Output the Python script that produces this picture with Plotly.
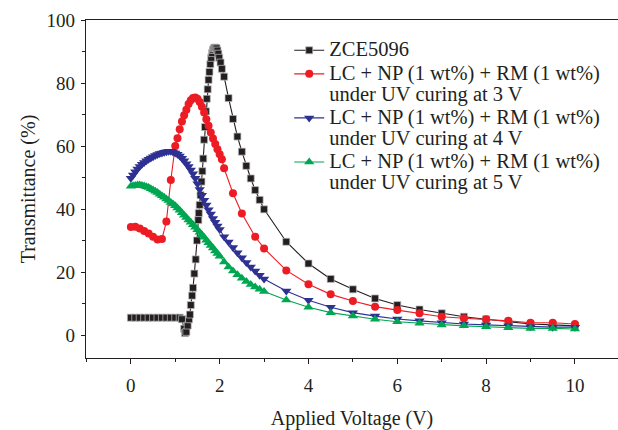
import plotly.graph_objects as go

# ---------------- data ----------------
v_black = [0, 0.1, 0.2, 0.3, 0.4, 0.5, 0.6, 0.7, 0.8, 0.9, 1.0, 1.1, 1.15,
           1.2, 1.22, 1.25, 1.28, 1.31, 1.33, 1.35, 1.38, 1.40, 1.43, 1.46, 1.49,
           1.52, 1.53, 1.55, 1.57, 1.59, 1.61, 1.63, 1.65, 1.67, 1.69, 1.71, 1.73,
           1.75, 1.77, 1.79, 1.81, 1.83, 1.85, 1.87, 1.89, 1.91, 1.93, 1.95, 1.97,
           1.99, 2.02, 2.05,
           2.1, 2.2, 2.3, 2.4, 2.5, 2.6, 2.7, 2.8, 2.9, 3.0,
           3.5, 4.0, 4.5, 5.0, 5.5, 6.0, 6.5, 7.0, 7.5, 8.0, 8.5, 9.0, 9.5, 10.0]
t_black = [5.5, 5.5, 5.5, 5.5, 5.5, 5.5, 5.5, 5.5, 5.5, 5.5, 5.5, 5.5, 5.0,
           2.0, 0.6, 1.0, 3.0, 5.0, 6.5, 9.5, 12.5, 15.0, 19.5, 24.0, 30.0,
           36.5, 38.7, 41.3, 44.4, 48.7, 52.0, 56.0, 62.0, 66.0, 71.0, 75.0, 78.0,
           81.0, 83.5, 86.0, 88.0, 89.5, 90.5, 91.0, 91.2, 91.2, 91.0, 90.3, 89.3,
           88.0, 86.5, 84.5,
           82.0, 75.2, 68.6, 63.0, 58.2, 53.7, 49.7, 46.0, 42.9, 39.9,
           29.6, 22.7, 17.8, 14.5, 11.6, 9.5, 8.1, 6.9, 5.8, 5.0, 4.2, 3.5, 3.2, 2.9]

v_red = [0, 0.1, 0.2, 0.3, 0.4, 0.5, 0.6, 0.7, 0.8, 0.9, 1.0, 1.05, 1.1, 1.15,
         1.2, 1.25, 1.3, 1.35, 1.4, 1.45, 1.5, 1.55, 1.6, 1.65, 1.7, 1.75, 1.8,
         1.85, 1.9, 1.95, 2.0, 2.05,
         2.1, 2.3, 2.5, 2.8, 3.0,
         3.5, 4.0, 4.5, 5.0, 5.5, 6.0, 6.5, 7.0, 7.5, 8.0, 8.5, 9.0, 9.5, 10.0]
t_red = [34.3, 34.4, 33.8, 33.0, 32.2, 31.2, 30.3, 30.5, 36.0, 49.2, 60.0, 62.5, 65.3, 67.8,
         69.8, 71.5, 73.3, 74.5, 75.2, 75.4, 75.0, 74.0, 72.5, 70.6, 68.5, 66.4, 64.3,
         62.4, 60.6, 59.0, 57.4, 55.8,
         52.9, 45.0, 38.6, 31.2, 27.5,
         20.5, 16.1, 12.9, 10.8, 9.0, 7.9, 6.9, 5.8, 5.3, 5.0, 4.5, 3.9, 3.9, 3.5]

v_blue = [0, 0.05, 0.1, 0.15, 0.2, 0.25, 0.3, 0.35, 0.4, 0.45, 0.5, 0.55, 0.6,
          0.65, 0.7, 0.75, 0.8, 0.85, 0.9, 0.95, 1.0, 1.05, 1.1, 1.15, 1.2, 1.25,
          1.3, 1.35, 1.4, 1.45, 1.5, 1.55, 1.6, 1.65, 1.7, 1.75, 1.8, 1.85, 1.9,
          1.95, 2.0,
          2.1, 2.2, 2.3, 2.4, 2.5, 2.6, 2.7, 2.8, 2.9, 3.0,
          3.5, 4.0, 4.5, 5.0, 5.5, 6.0, 6.5, 7.0, 7.5, 8.0, 8.5, 9.0, 9.5, 10.0]
t_blue = [49.8, 50.8, 51.8, 52.7, 53.5, 54.2, 54.8, 55.3, 55.8, 56.2, 56.6, 57.0, 57.3,
          57.6, 57.8, 58.0, 58.2, 58.3, 58.3, 58.1, 57.8, 57.4, 56.8, 56.1, 55.3, 54.4,
          53.5, 52.4, 51.2, 49.8, 48.0, 46.2, 44.4, 42.8, 41.3, 39.8, 38.4, 37.0, 35.8,
          34.6, 33.5,
          31.2, 29.5, 27.8, 26.1, 24.5, 23.0, 21.6, 20.3, 19.0, 17.8,
          14.0, 11.0, 8.8, 7.1, 6.0, 5.1, 4.5, 3.9, 3.5, 3.2, 2.9, 2.6, 2.5, 2.5]

v_green = [0, 0.05, 0.1, 0.15, 0.2, 0.25, 0.3, 0.35, 0.4, 0.45, 0.5, 0.55, 0.6,
           0.65, 0.7, 0.75, 0.8, 0.85, 0.9, 0.95, 1.0, 1.05, 1.1, 1.15, 1.2, 1.25,
           1.3, 1.35, 1.4, 1.45, 1.5, 1.55, 1.6, 1.65, 1.7, 1.75, 1.8, 1.85, 1.9,
           1.95, 2.0,
           2.1, 2.2, 2.3, 2.4, 2.5, 2.6, 2.7, 2.8, 2.9, 3.0,
           3.5, 4.0, 4.5, 5.0, 5.5, 6.0, 6.5, 7.0, 7.5, 8.0, 8.5, 9.0, 9.5, 10.0]
t_green = [47.2, 47.4, 47.5, 47.6, 47.6, 47.5, 47.3, 47.1, 46.8, 46.4, 46.0, 45.6, 45.2,
           44.7, 44.2, 43.7, 43.2, 42.7, 42.1, 41.6, 41.0, 40.3, 39.6, 38.8, 38.0, 37.3,
           36.5, 35.8, 35.0, 34.2, 33.4, 32.6, 31.8, 31.0, 30.1, 29.3, 28.4, 27.6, 26.7,
           25.9, 25.0,
           23.2, 21.6, 20.3, 19.1, 18.0, 17.0, 16.0, 15.2, 14.5, 13.8,
           11.1, 8.8, 7.1, 6.0, 5.0, 4.2, 3.7, 3.2, 2.9, 2.6, 2.3, 2.1, 2.1, 1.9]

x_ticks = [0, 2, 4, 6, 8, 10]
y_ticks = [0, 20, 40, 60, 80, 100]

name_black = "ZCE5096"
name_red = "LC + NP (1 wt%) + RM (1 wt%)<br>under UV curing at 3 V"
name_blue = "LC + NP (1 wt%) + RM (1 wt%)<br>under UV curing at 4 V"
name_green = "LC + NP (1 wt%) + RM (1 wt%)<br>under UV curing at 5 V"

# ---------------- styling ----------------
FONT = "Liberation Serif, Times New Roman, serif"
INK = "#231f20"
C_BLACK = "#231f20"
C_RED = "#ed1c24"
C_BLUE = "#2e3192"
C_GREEN = "#00a651"


def big(label):
    return "<br>".join(
        f"<span style='font-size:20.5px'>{part}</span>" for part in label.split("<br>")
    )


fig = go.Figure()
fig.add_trace(go.Scatter(
    x=v_black, y=t_black, name=big(name_black), mode="lines+markers",
    line=dict(color=C_BLACK, width=1.1),
    marker=dict(symbol="square", size=7, color=C_BLACK,
                line=dict(color="rgba(190,190,190,0.9)", width=0.8)),
))
fig.add_trace(go.Scatter(
    x=v_red, y=t_red, name=big(name_red), mode="lines+markers",
    line=dict(color=C_RED, width=1.1),
    marker=dict(symbol="circle", size=8, color=C_RED, line=dict(width=0)),
))
fig.add_trace(go.Scatter(
    x=v_blue, y=t_blue, name=big(name_blue), mode="lines+markers",
    line=dict(color=C_BLUE, width=1.1),
    marker=dict(symbol="triangle-down", size=9, color=C_BLUE, line=dict(width=0)),
))
fig.add_trace(go.Scatter(
    x=v_green, y=t_green, name=big(name_green), mode="lines+markers",
    line=dict(color=C_GREEN, width=1.1),
    marker=dict(symbol="triangle-up", size=9, color=C_GREEN, line=dict(width=0)),
))

fig.update_layout(
    width=618, height=430,
    margin=dict(l=86, r=0, t=20, b=72, autoexpand=False),
    paper_bgcolor="white", plot_bgcolor="white",
    font=dict(family=FONT, color=INK, size=19),
    showlegend=True,
    legend=dict(
        x=0.382, y=0.96, xanchor="left", yanchor="top",
        bgcolor="rgba(0,0,0,0)", borderwidth=0,
        font=dict(family=FONT, size=15.8, color=INK),
        valign="top", tracegroupgap=0, itemwidth=30,
    ),
)
fig.update_xaxes(
    range=[-1.01, 10.97], tickvals=x_ticks, ticktext=[str(t) for t in x_ticks],
    automargin=False,
    showgrid=False, zeroline=False, showline=True, linecolor=INK, linewidth=1.2,
    mirror=True, ticks="outside", ticklen=5, tickwidth=1.2, tickcolor=INK,
    ticklabelstandoff=5,
    tickfont=dict(family=FONT, size=19, color=INK),
    minor=dict(ticks="outside", ticklen=3, tickwidth=1, tickcolor=INK, dtick=1, tick0=0),
    title=dict(text="Applied Voltage (V)", font=dict(family=FONT, size=20, color=INK),
               standoff=17),
)
fig.update_yaxes(
    range=[-7.3, 100], tickvals=y_ticks, ticktext=[str(t) for t in y_ticks],
    automargin=False,
    showgrid=False, zeroline=False, showline=True, linecolor=INK, linewidth=1.2,
    mirror=False, ticks="outside", ticklen=4, tickwidth=1.2, tickcolor=INK,
    ticklabelstandoff=2,
    tickfont=dict(family=FONT, size=19, color=INK),
    minor=dict(ticks="outside", ticklen=3, tickwidth=1, tickcolor=INK, dtick=10, tick0=0),
    title=dict(text="Transmittance (%)", font=dict(family=FONT, size=20, color=INK),
               standoff=5),
)

fig.write_html("out.html", config={"displayModeBar": False},
               post_script="document.body.style.margin='0';")
